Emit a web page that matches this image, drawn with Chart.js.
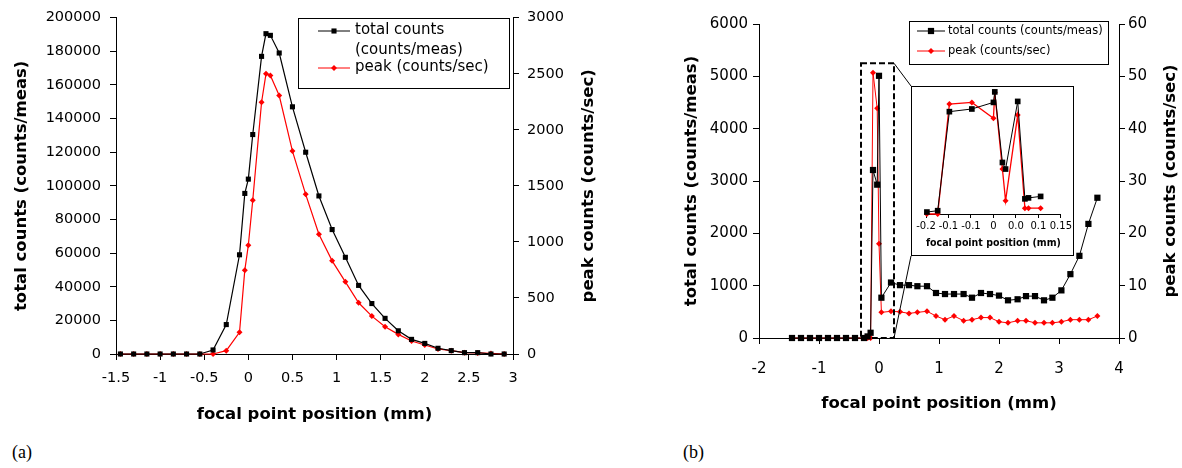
<!DOCTYPE html>
<html>
<head>
<meta charset="utf-8">
<script src="https://cdn.jsdelivr.net/npm/chart.js@4/dist/chart.umd.min.js"></script>
<style>
  html, body { margin: 0; padding: 0; background: #fff; }
  body { width: 1182px; height: 468px; position: relative; overflow: hidden; }
  canvas { position: absolute; }
  .tag { position: absolute; font-family: 'Liberation Serif', 'Times New Roman', serif; font-size: 18px; line-height: 20px; color: #000; }
</style>
</head>
<body>
<canvas id="chartA" width="600" height="430" style="left:0;top:0"></canvas>
<canvas id="chartB" width="582" height="430" style="left:600px;top:0"></canvas>
<canvas id="inset" width="163" height="170" style="left:911px;top:86px"></canvas>
<div class="tag" style="left:12px;top:442px">(a)</div>
<div class="tag" style="left:683px;top:442px">(b)</div>
<script>
// ---- (a) focal scan, wide range ----
const posA = [-1.45, -1.3, -1.15, -1.0, -0.85, -0.7, -0.55, -0.4, -0.25, -0.1, -0.04, 0, 0.05, 0.15, 0.2, 0.25, 0.35, 0.5,
  0.65, 0.8, 0.95, 1.1, 1.25, 1.4, 1.55, 1.7, 1.85, 2.0, 2.15, 2.3, 2.45, 2.6, 2.75, 2.9];
const totalA = [0, 0, 0, 0, 0, 0, 0, 2400, 17500, 59000, 95500, 104000, 130500, 177000, 190500, 189500, 179000, 147000,
  120000, 94000, 74000, 57500, 40800, 30000, 21200, 13800, 8700, 6300, 3400, 2000, 800, 800, 0, 0];
const peakA = [0, 0, 0, 0, 0, 0, 0, 0, 30, 193, 748, 970, 1371, 2246, 2499, 2484, 2306, 1810,
  1424, 1068, 831, 644, 457, 338, 243, 175, 116, 80, 45, 30, 12, 10, 5, 0];

// ---- (b) focal scan, second sample ----
const posB = [-1.45, -1.3, -1.15, -1.0, -0.85, -0.7, -0.55, -0.4, -0.25, -0.19, -0.14, -0.1, -0.03, 0, 0.04,
  0.2, 0.35, 0.5, 0.64, 0.8, 0.95, 1.1, 1.25, 1.41, 1.55, 1.7, 1.85, 2.0, 2.15, 2.31, 2.45, 2.6, 2.75, 2.89,
  3.04, 3.19, 3.34, 3.49, 3.64];
const totalB = [0, 0, 0, 0, 0, 0, 0, 0, 0, 30, 100, 3210, 2930, 5010, 770,
  1060, 1010, 1010, 990, 990, 860, 840, 840, 840, 770, 860, 840, 810, 720, 740, 800, 800, 720, 770,
  910, 1220, 1570, 2180, 2680];
const peakB = [0, 0, 0, 0, 0, 0, 0, 0, 0, 0, 0, 50.7, 43.9, 18.0, 4.9,
  5.1, 5.0, 4.7, 4.9, 5.1, 4.2, 3.5, 4.2, 3.3, 3.5, 3.9, 3.9, 3.1, 2.9, 3.3, 3.3, 2.9, 2.9, 2.9,
  3.1, 3.5, 3.5, 3.5, 4.2];

// ---- (b) inset, zoom on the peak ----
const posInset = [-0.148, -0.124, -0.098, -0.048, 0.0, 0.003, 0.02, 0.027, 0.054, 0.07, 0.078, 0.105];
const totalInset = [80, 135, 4190, 4300, 4570, 5000, 2110, 1840, 4610, 620, 660, 720];
const peakInset = [0, 0, 45.0, 45.7, 39.2, 49.7, 18.4, 5.4, 40.5, 2.4, 2.4, 2.4];
const insetTickLabels = ['-0.2', '-0.1', '-0.1', '0', '0.0', '0.1', '0.15'];

// dashed region on (b) that the inset enlarges
const zoomBox = { xMin: -0.3, xMax: 0.25, yMin: 0, yMax: 5250 };

const FONT = "'DejaVu Sans', sans-serif";
Chart.defaults.font.family = FONT;
Chart.defaults.color = '#000';

function points(xs, ys) {
    return xs.map((x, i) => ({ x: x, y: ys[i] }));
}

function series(label, xs, ys, color, style, radius, axis, width) {
    return {
        label: label,
        data: points(xs, ys),
        yAxisID: axis,
        borderColor: color,
        backgroundColor: color,
        borderWidth: width,
        pointStyle: style,
        pointRadius: radius,
        pointBorderWidth: 0,
        tension: 0,
        clip: false
    };
}

function drawMarker(ctx, style, x, y, r, color) {
    ctx.fillStyle = color;
    ctx.beginPath();
    if (style === 'rect') {
        const s = r * Math.SQRT1_2;
        ctx.rect(x - s, y - s, 2 * s, 2 * s);
    } else {
        ctx.moveTo(x, y - r);
        ctx.lineTo(x + r, y);
        ctx.lineTo(x, y + r);
        ctx.lineTo(x - r, y);
        ctx.closePath();
    }
    ctx.fill();
}

// legend drawn as a framed box inside the plot
function boxLegend(cfg) {
    return {
        id: 'boxLegend',
        afterDraw(chart) {
            const ctx = chart.ctx;
            const b = cfg.box;
            ctx.save();
            ctx.fillStyle = '#fff';
            ctx.fillRect(b.x, b.y, b.w, b.h);
            ctx.strokeStyle = '#000';
            ctx.lineWidth = 1;
            ctx.strokeRect(b.x + 0.5, b.y + 0.5, b.w, b.h);
            ctx.font = cfg.fontSize + 'px ' + FONT;
            ctx.textBaseline = 'middle';
            ctx.textAlign = 'left';
            cfg.entries.forEach(e => {
                const ds = chart.data.datasets[e.dataset];
                ctx.strokeStyle = ds.borderColor;
                ctx.lineWidth = 1;
                ctx.beginPath();
                ctx.moveTo(cfg.lineX1, e.lineY);
                ctx.lineTo(cfg.lineX2, e.lineY);
                ctx.stroke();
                drawMarker(ctx, ds.pointStyle, (cfg.lineX1 + cfg.lineX2) / 2, e.lineY, ds.pointRadius, ds.borderColor);
                ctx.fillStyle = '#000';
                e.lines.forEach((t, i) => ctx.fillText(t, cfg.textX, e.textY[i]));
            });
            ctx.restore();
        }
    };
}

// right-hand axis title reads bottom-to-top, like the left one
function rightTitle(x) {
    return {
        id: 'rightTitle',
        afterDraw(chart) {
            const ctx = chart.ctx;
            const a = chart.chartArea;
            ctx.save();
            ctx.translate(x, (a.top + a.bottom) / 2);
            ctx.rotate(-Math.PI / 2);
            ctx.font = 'bold 16.5px ' + FONT;
            ctx.textAlign = 'center';
            ctx.textBaseline = 'middle';
            ctx.fillStyle = '#000';
            ctx.fillText(chart.scales.y1.options.title.text, 0, 0);
            ctx.restore();
        }
    };
}

function yAxis(pos, min, max, step, cfg) {
    return {
        type: 'linear',
        position: pos,
        min: min,
        max: max,
        ticks: { stepSize: step, font: { size: cfg.tickSize }, padding: cfg.tickPad, callback: v => String(v) },
        grid: { drawOnChartArea: false, tickLength: 6, color: '#000' },
        border: { display: true, color: '#000' },
        title: { display: pos === 'left', text: cfg.title, font: { size: 16.5, weight: 'bold' }, padding: { top: cfg.titlePad, bottom: 0 } },
        afterFit: s => { s.width = cfg.width; }
    };
}

function xAxis(min, max, step, cfg) {
    return {
        type: 'linear',
        min: min,
        max: max,
        ticks: { stepSize: step, font: { size: cfg.tickSize }, padding: cfg.tickPad, maxRotation: 0, autoSkip: false,
            callback: v => String(Math.abs(v) < 1e-9 ? 0 : v) },
        grid: { drawOnChartArea: false, tickLength: 6, color: '#000' },
        border: { display: true, color: '#000' },
        title: { display: true, text: 'focal point position (mm)', font: { size: 16.5, weight: 'bold' }, padding: { top: 0, bottom: cfg.titlePad } },
        afterFit: s => { s.height = cfg.height; }
    };
}

const baseOptions = {
    responsive: false,
    animation: false,
    events: [],
    plugins: { legend: { display: false }, tooltip: { enabled: false } }
};

// ---------- chart (a) ----------
new Chart(document.getElementById('chartA'), {
    type: 'line',
    data: {
        datasets: [
            series('total counts (counts/meas)', posA, totalA, '#000000', 'rect', 3.6, 'y', 1.2),
            series('peak (counts/sec)', posA, peakA, '#ff0000', 'rectRot', 3, 'y1', 1.2)
        ]
    },
    options: Object.assign({}, baseOptions, {
        layout: { padding: { top: 17, left: 0, right: 0, bottom: 0 }, autoPadding: false },
        scales: {
            x: xAxis(-1.5, 3, 0.5, { tickSize: 14.5, tickPad: 10, titlePad: 5, height: 76 }),
            y: yAxis('left', 0, 200000, 20000, { tickSize: 14.5, tickPad: 9, title: 'total counts (counts/meas)', titlePad: 12, width: 116 }),
            y1: yAxis('right', 0, 3000, 500, { tickSize: 14.5, tickPad: 8, title: 'peak counts (counts/sec)', titlePad: 2, width: 87 })
        }
    }),
    plugins: [rightTitle(589), boxLegend({
        box: { x: 298, y: 18, w: 211, h: 70 },
        fontSize: 15,
        lineX1: 318, lineX2: 350, textX: 355,
        entries: [
            { dataset: 0, lineY: 31, lines: ['total counts', '(counts/meas)'], textY: [30, 50] },
            { dataset: 1, lineY: 68, lines: ['peak (counts/sec)'], textY: [67] }
        ]
    })]
});

// ---------- chart (b) ----------
const zoomBoxPlugin = {
    id: 'zoomBox',
    afterDatasetsDraw(chart) {
        const { ctx, scales } = chart;
        const l = scales.x.getPixelForValue(zoomBox.xMin);
        const r = scales.x.getPixelForValue(zoomBox.xMax);
        const t = scales.y.getPixelForValue(zoomBox.yMax);
        const b = scales.y.getPixelForValue(zoomBox.yMin);
        ctx.save();
        ctx.strokeStyle = '#000';
        ctx.lineWidth = 2;
        ctx.setLineDash([6, 3]);
        ctx.strokeRect(l, t, r - l, b - t);
        // lead lines to the inset frame
        const me = chart.canvas.getBoundingClientRect();
        const ins = document.getElementById('inset').getBoundingClientRect();
        ctx.setLineDash([]);
        ctx.lineWidth = 1;
        ctx.beginPath();
        ctx.moveTo(r, t);
        ctx.lineTo(ins.left - me.left, ins.top - me.top);
        ctx.moveTo(r, b);
        ctx.lineTo(ins.left - me.left, ins.bottom - me.top);
        ctx.stroke();
        ctx.restore();
    }
};

new Chart(document.getElementById('chartB'), {
    type: 'line',
    data: {
        datasets: [
            series('total counts (counts/meas)', posB, totalB, '#000000', 'rect', 4.4, 'y', 1),
            series('peak (counts/sec)', posB, peakB, '#ff0000', 'rectRot', 3, 'y1', 1)
        ]
    },
    options: Object.assign({}, baseOptions, {
        layout: { padding: { top: 24, left: 0, right: 0, bottom: 0 }, autoPadding: false },
        scales: {
            x: xAxis(-2, 4, 1, { tickSize: 15, tickPad: 16, titlePad: 16, height: 92 }),
            y: yAxis('left', 0, 6000, 1000, { tickSize: 15, tickPad: 5, title: 'total counts (counts/meas)', titlePad: 82, width: 159 }),
            y1: yAxis('right', 0, 60, 10, { tickSize: 15, tickPad: 3, title: 'peak counts (counts/sec)', titlePad: 2, width: 63 })
        }
    }),
    plugins: [zoomBoxPlugin, rightTitle(571), boxLegend({
        box: { x: 309, y: 21, w: 199, h: 43 },
        fontSize: 11.5,
        lineX1: 317, lineX2: 345, textX: 348,
        entries: [
            { dataset: 0, lineY: 31, lines: ['total counts (counts/meas)'], textY: [31] },
            { dataset: 1, lineY: 51, lines: ['peak (counts/sec)'], textY: [51] }
        ]
    })]
});

// ---------- inset of (b) ----------
const insetFrame = {
    id: 'insetFrame',
    beforeDraw(chart) {
        const ctx = chart.ctx;
        ctx.save();
        ctx.fillStyle = '#fff';
        ctx.fillRect(0, 0, chart.width, chart.height);
        ctx.restore();
    },
    afterDraw(chart) {
        const ctx = chart.ctx;
        ctx.save();
        ctx.strokeStyle = '#000';
        ctx.lineWidth = 1;
        ctx.strokeRect(0.5, 0.5, chart.width - 1, chart.height - 1);
        ctx.restore();
    }
};

new Chart(document.getElementById('inset'), {
    type: 'line',
    data: {
        datasets: [
            series('total counts (counts/meas)', posInset, totalInset, '#000000', 'rect', 4, 'y', 1),
            series('peak (counts/sec)', posInset, peakInset, '#ff0000', 'rectRot', 3, 'y1', 1.3)
        ]
    },
    options: Object.assign({}, baseOptions, {
        layout: { padding: { top: 1, left: 15, right: 13, bottom: 0 }, autoPadding: false },
        scales: {
            x: {
                type: 'linear',
                min: -0.15,
                max: 0.15,
                ticks: { stepSize: 0.05, font: { size: 10 }, padding: 2, maxRotation: 0, autoSkip: false,
                    callback: (v, i) => insetTickLabels[i] },
                grid: { drawOnChartArea: false, tickLength: 4, color: '#000' },
                border: { display: true, color: '#000' },
                title: { display: true, text: 'focal point position (mm)', font: { size: 10, weight: 'bold' }, padding: { top: 0, bottom: 7 } },
                afterFit: s => { s.height = 42; }
            },
            y: { display: false, min: 0, max: 5200 },
            y1: { display: false, position: 'right', min: 0, max: 52 }
        }
    }),
    plugins: [insetFrame]
});
</script>
</body>
</html>
